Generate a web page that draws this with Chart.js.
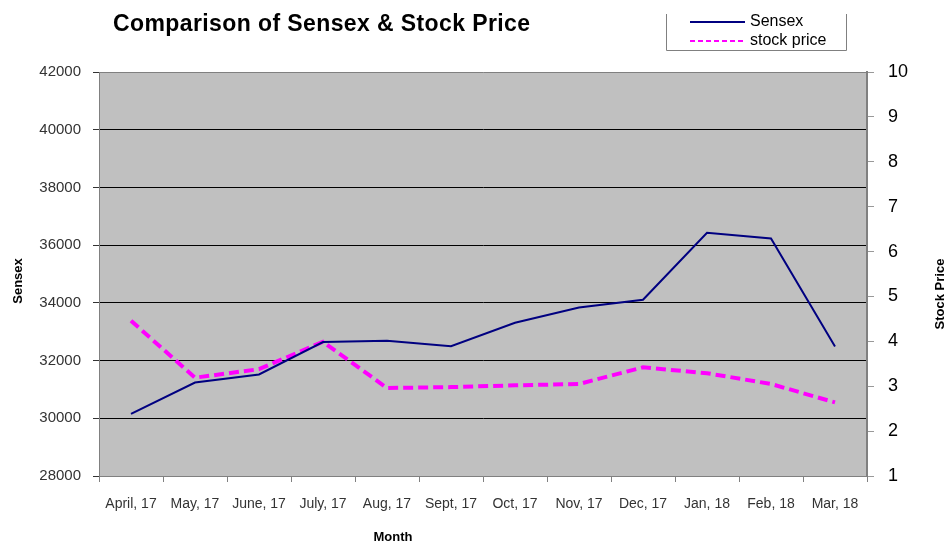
<!DOCTYPE html>
<html>
<head>
<meta charset="utf-8">
<script src="https://cdn.jsdelivr.net/npm/chart.js@4.4.0/dist/chart.umd.min.js"></script>
<style>
html,body{margin:0;padding:0;background:#fff;}
#wrap{width:946px;height:544px;position:relative;}
</style>
</head>
<body>
<div id="wrap"><canvas id="c" width="946" height="544"></canvas></div>
<script>
const months = ["April, 17","May, 17","June, 17","July, 17","Aug, 17","Sept, 17","Oct, 17","Nov, 17","Dec, 17","Jan, 18","Feb, 18","Mar, 18"];
const sensex = [30150,31240,31520,32640,32690,32500,33310,33840,34110,36430,36230,32490];
const stockPrice = [4.46,3.19,3.38,3.99,2.96,2.98,3.02,3.05,3.42,3.29,3.05,2.64];
const sensexTicks = [28000,30000,32000,34000,36000,38000,40000,42000];
const priceTicks = [1,2,3,4,5,6,7,8,9,10];

const FONT = "'Liberation Sans', Arial, sans-serif";

const decor = {
  id: 'decor',
  beforeDraw(chart) {
    const {ctx, chartArea:a} = chart;
    ctx.save();
    ctx.fillStyle = '#C0C0C0';
    ctx.fillRect(a.left, a.top, a.right - a.left, a.bottom - a.top);
    ctx.restore();
  },
  afterDraw(chart) {
    const {ctx} = chart;
    ctx.save();
    // Title
    ctx.fillStyle = '#000';
    ctx.font = "bold 23px " + FONT;
    ctx.letterSpacing = '0.4px';
    ctx.textBaseline = 'alphabetic';
    ctx.textAlign = 'left';
    ctx.fillText('Comparison of Sensex & Stock Price', 113, 31);
    ctx.letterSpacing = '0px';
    // Axis titles
    ctx.font = "bold 13px " + FONT;
    ctx.textAlign = 'center';
    ctx.textBaseline = 'middle';
    ctx.fillText('Month', 393, 537);
    ctx.save();
    ctx.translate(18, 281);
    ctx.rotate(-Math.PI/2);
    ctx.fillText('Sensex', 0, 0);
    ctx.restore();
    ctx.save();
    ctx.translate(940, 294);
    ctx.rotate(-Math.PI/2);
    ctx.fillText('Stock Price', 0, 0);
    ctx.restore();
    // Legend box
    ctx.strokeStyle = '#808080';
    ctx.lineWidth = 1;
    ctx.beginPath();
    ctx.moveTo(666.5, 14);
    ctx.lineTo(666.5, 50.5);
    ctx.lineTo(846.5, 50.5);
    ctx.lineTo(846.5, 14);
    ctx.stroke();
    ctx.strokeStyle = '#000080';
    ctx.lineWidth = 2;
    ctx.beginPath();
    ctx.moveTo(690, 22);
    ctx.lineTo(745, 22);
    ctx.stroke();
    ctx.strokeStyle = '#FF00FF';
    ctx.lineWidth = 2;
    ctx.setLineDash([5,3]);
    ctx.beginPath();
    ctx.moveTo(690, 41);
    ctx.lineTo(745, 41);
    ctx.stroke();
    ctx.setLineDash([]);
    ctx.fillStyle = '#000';
    ctx.font = "16px " + FONT;
    ctx.textAlign = 'left';
    ctx.textBaseline = 'middle';
    ctx.fillText('Sensex', 750, 22);
    ctx.fillText('stock price', 750, 41);
    ctx.restore();
  }
};

new Chart(document.getElementById('c'), {
  type: 'line',
  data: {
    labels: months,
    datasets: [
      { label: 'Sensex', data: sensex, yAxisID: 'y', borderColor: '#000080', borderWidth: 2, pointRadius: 0, tension: 0, fill: false },
      { label: 'stock price', data: stockPrice, yAxisID: 'y2', borderColor: '#FF00FF', borderWidth: 4, borderDash: [10,5], pointRadius: 0, tension: 0, fill: false }
    ]
  },
  options: {
    responsive: false,
    animation: false,
    layout: { padding: { top: 72, left: 0, right: 0, bottom: 0 } },
    plugins: { legend: { display: false }, title: { display: false }, tooltip: { enabled: false } },
    scales: {
      x: {
        offset: true,
        grid: { offset: true, drawOnChartArea: false, color: '#808080', tickLength: 6 },
        border: { color: '#808080', width: 1 },
        ticks: { color: '#333', font: { family: FONT, size: 14 }, padding: 14, maxRotation: 0, autoSkip: false },
        afterFit(s) { s.height = 68; }
      },
      y: {
        position: 'left',
        min: 28000, max: 42000,
        afterBuildTicks(s) { s.ticks = sensexTicks.map(v => ({value: v})); },
        grid: {
          color: (c) => (c.tick && (c.tick.value === 28000 || c.tick.value === 42000)) ? '#808080' : '#000',
          tickColor: '#333',
          tickLength: 6
        },
        border: { color: '#808080', width: 1 },
        ticks: { color: '#333', font: { family: FONT, size: 15 }, padding: 12, callback: (v) => String(v) },
        afterFit(s) { s.width = 99; }
      },
      y2: {
        position: 'right',
        min: 1, max: 10,
        afterBuildTicks(s) { s.ticks = priceTicks.map(v => ({value: v})); },
        grid: { drawOnChartArea: false, color: '#999', tickLength: 7 },
        border: { color: '#808080', width: 2 },
        ticks: { color: '#000', font: { family: FONT, size: 18 }, padding: 14, callback: (v) => String(v) },
        afterFit(s) { s.width = 79; }
      }
    }
  },
  plugins: [decor]
});
</script>
</body>
</html>
